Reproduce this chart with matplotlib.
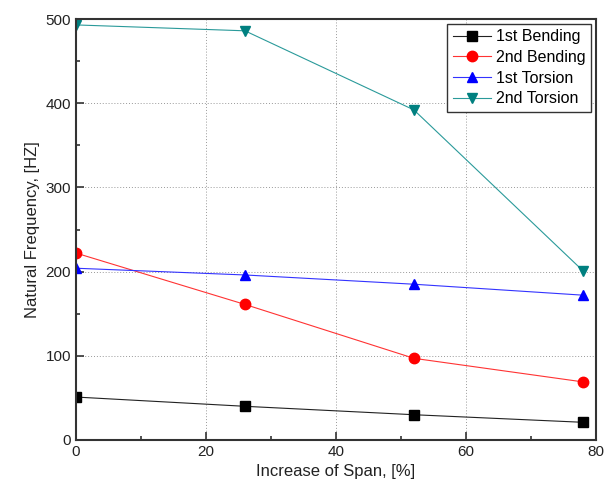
import matplotlib
matplotlib.use("Agg")
import matplotlib.pyplot as plt
from matplotlib.ticker import MultipleLocator

plt.rcParams['font.family'] = ['Liberation Sans', 'DejaVu Sans']

span = [0, 26, 52, 78]
bend1 = [51, 40, 30, 21]
bend2 = [222, 161, 97, 69]
tors1 = [204, 196, 185, 172]
tors2 = [493, 486, 392, 201]

fig = plt.figure(figsize=(6.05, 4.98), dpi=100)
ax = fig.add_axes([0.1256, 0.1165, 0.8594, 0.8453])

ax.plot(span, bend1, color='#222222', lw=0.8, marker='s', ms=6.5, mfc='black', mec='black', label='1st Bending')
ax.plot(span, bend2, color='#ff3333', lw=0.8, marker='o', ms=7.5, mfc='red', mec='red', label='2nd Bending')
ax.plot(span, tors1, color='#3333ff', lw=0.8, marker='^', ms=7.5, mfc='blue', mec='blue', label='1st Torsion')
ax.plot(span, tors2, color='#2a9a9a', lw=0.8, marker='v', ms=7.5, mfc='#008080', mec='#008080', label='2nd Torsion')

ax.set_xlim(0, 80)
ax.set_ylim(0, 500)
ax.xaxis.set_major_locator(MultipleLocator(20))
ax.xaxis.set_minor_locator(MultipleLocator(10))
ax.yaxis.set_major_locator(MultipleLocator(100))
ax.yaxis.set_minor_locator(MultipleLocator(50))
ax.tick_params(which='both', direction='in', top=False, right=False, labelsize=11, width=1.2,
               colors='#333333', labelcolor='#222222')
ax.tick_params(which='major', length=6)
ax.tick_params(which='minor', length=3)
ax.grid(True, which='major', linestyle=(0, (1, 2)), color='#999999', lw=0.7)
for s in ax.spines.values():
    s.set_linewidth(1.5)
    s.set_color('#333333')

ax.set_xlabel('Increase of Span, [%]', fontsize=12, color='#222222')
ax.set_ylabel('Natural Frequency, [HZ]', fontsize=12, color='#222222')

leg = ax.legend(loc='upper right', fontsize=11.5, fancybox=False, edgecolor='#333333',
                borderaxespad=0.3, handlelength=2.4, handletextpad=0.3,
                labelspacing=0.35, borderpad=0.35, framealpha=1)
leg.get_frame().set_linewidth(1.0)

fig.savefig('out.png', dpi=100)
